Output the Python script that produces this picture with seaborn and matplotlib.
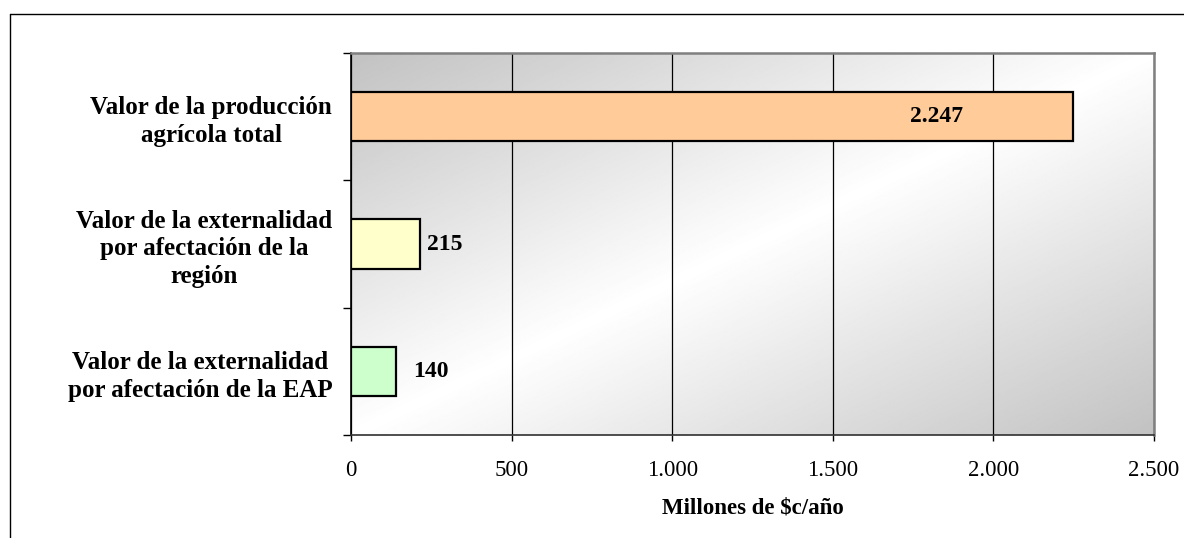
import numpy as np
import matplotlib
matplotlib.use("Agg")
import matplotlib.pyplot as plt
from matplotlib.lines import Line2D
from matplotlib.ticker import FuncFormatter, FixedLocator
import seaborn as sns
import pandas as pd

# Data
categories = [
    "Valor de la producción\nagrícola total",
    "Valor de la externalidad\npor afectación de la\nregión",
    "Valor de la externalidad\npor afectación de la EAP",
]
values = [2247, 215, 140]
value_labels = ["2.247", "215", "140"]
bar_colors = ["#FFCC99", "#FFFFCC", "#CCFFCC"]
x_ticks = [0, 500, 1000, 1500, 2000, 2500]
x_label = "Millones de $c/año"

sns.set_theme(style="white")
plt.rcParams["font.family"] = ["Liberation Serif", "DejaVu Serif"]
plt.rcParams.update({"text.color": "black", "axes.labelcolor": "black",
                     "xtick.color": "black", "ytick.color": "black"})

W, H = 1184, 538
fig = plt.figure(figsize=(W / 100, H / 100), dpi=100)
fig.patch.set_facecolor("white")

# Outer chart frame (top and left edges)
fig.add_artist(Line2D([10 / W, 10 / W], [0, 1 - 14 / H], color="black", lw=1.0))
fig.add_artist(Line2D([10 / W, 1.0], [1 - 14 / H, 1 - 14 / H], color="black", lw=1.0))

left, right, top, bottom = 351, 1154, 53, 435
ax = fig.add_axes([left / W, 1 - bottom / H, (right - left) / W, (bottom - top) / H])

df = pd.DataFrame({"cat": categories, "val": values})

# Diagonal gradient background: gray in the corners, white along the middle
n = 400
gx, gy = np.meshgrid(np.linspace(0, 1, n), np.linspace(0, 1, n))
t = (gx + gy) / 2.0
shade = 1.0 - (1.0 - 0.76) * np.abs(2 * t - 1)
ax.imshow(shade, cmap="gray", vmin=0, vmax=1, extent=[0, 1, 0, 1],
          transform=ax.transAxes, aspect="auto", zorder=0, origin="upper",
          interpolation="bilinear")

sns.barplot(data=df, x="val", y="cat", hue="cat", palette=bar_colors,
            saturation=1, orient="h", width=0.39, edgecolor="black",
            linewidth=1.6, legend=False, ax=ax, zorder=3)

ax.set_xlim(0, 2500)
ax.set_ylim(2.5, -0.5)

# Vertical gridlines
ax.xaxis.set_major_locator(FixedLocator(x_ticks))
ax.grid(axis="x", color="black", lw=0.9, zorder=1)
ax.grid(axis="y", visible=False)
ax.set_axisbelow(True)

ax.xaxis.set_major_formatter(FuncFormatter(lambda v, p: f"{int(v):,}".replace(",", ".")))
ax.tick_params(axis="x", which="major", direction="out", length=4, width=1,
               color="black", labelcolor="black", labelsize=16.5, pad=14, bottom=True)

# Category labels centred on bars; tick marks at the band boundaries
ax.set_yticks(range(len(categories)))
ax.set_yticklabels(categories, fontsize=18, fontweight="bold", multialignment="center",
                   linespacing=1.26, color="black")
ax.tick_params(axis="y", which="major", length=0, pad=13.5)
ax.yaxis.set_minor_locator(FixedLocator([-0.5, 0.5, 1.5, 2.5]))
ax.tick_params(axis="y", which="minor", direction="out", length=6, width=1,
               color="black", left=True)

for s in ["top", "right"]:
    ax.spines[s].set_color("#808080")
    ax.spines[s].set_linewidth(1.8)
ax.spines["left"].set_color("black")
ax.spines["left"].set_linewidth(1.2)
ax.spines["bottom"].set_color("#303030")
ax.spines["bottom"].set_linewidth(1.2)
for s in ax.spines.values():
    s.set_zorder(5)

ax.set_xlabel(x_label, fontsize=16.5, fontweight="bold", labelpad=12, color="black")
ax.set_ylabel("")

# Value labels
offsets = [(-98, "center"), (5, "left"), (12, "left")]
for i, (v, lab) in enumerate(zip(values, value_labels)):
    dx, ha = offsets[i]
    ax.annotate(lab, xy=(v, i), xytext=(dx, 0), textcoords="offset points",
                ha=ha, va="center", fontsize=17, fontweight="bold",
                color="black", zorder=6)

fig.savefig("out.png", dpi=100)
